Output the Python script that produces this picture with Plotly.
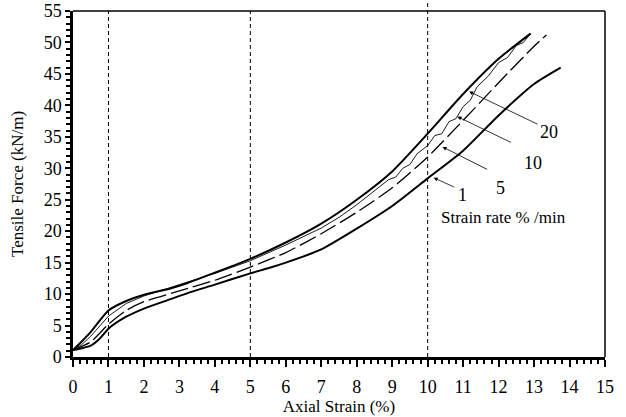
import plotly.graph_objects as go

# strain rate curves (axial strain %, tensile force kN/m)
rate1_x = [0, 0.25, 0.5, 0.75, 1, 1.5, 2, 2.75, 3.25, 4, 5, 5.5, 6, 7, 8, 9, 10, 11, 12, 13, 13.75]
rate1_y = [1.1, 1.4, 1.8, 2.9, 4.5, 6.4, 7.7, 9.2, 10.2, 11.5, 13.3, 14.1, 15.0, 17.1, 20.4, 24.0, 28.4, 32.8, 38.4, 43.4, 46.0]

rate5_x = [0, 0.5, 1, 1.5, 2, 3, 4, 5, 6, 7, 8, 9, 10, 11, 12, 13, 13.35]
rate5_y = [1.1, 2.4, 5.2, 7.4, 8.8, 10.5, 12.2, 14.3, 16.6, 19.6, 23.0, 26.9, 31.8, 37.6, 43.6, 49.4, 51.2]

rate10_x = [0, 0.25, 0.5, 1, 1.5, 2, 3, 4, 5, 6, 7, 7.5, 8, 8.5, 8.9, 9.1, 9.3, 9.5, 9.7, 10,
            10.2, 10.4, 10.6, 10.8, 11, 11.2, 11.4, 11.7, 12, 12.25, 12.5, 12.7, 12.9, 12.75]
rate10_y = [1.1, 2.0, 3.3, 6.5, 8.5, 9.7, 11.5, 13.3, 15.3, 17.8, 20.5, 22.2, 24.2, 26.4, 28.2, 28.6, 30.0, 30.6, 32.3, 33.6,
            35.2, 35.5, 37.4, 37.9, 39.8, 40.8, 43.0, 44.6, 46.8, 47.6, 49.5, 50.0, 51.4, 50.6]

rate20_x = [0, 0.25, 0.5, 1, 1.5, 2, 2.75, 3.25, 4, 5, 6, 7, 8, 9, 10, 11, 12, 12.9]
rate20_y = [1.1, 2.5, 4.0, 7.4, 8.9, 9.9, 10.9, 11.8, 13.4, 15.6, 18.2, 21.2, 25.0, 29.5, 35.5, 41.8, 47.4, 51.4]

guide_x = [1, 5, 10]

x_ticks = list(range(0, 16))
y_ticks = list(range(0, 56, 5))

serif = "Liberation Serif"

fig = go.Figure()

fig.add_trace(go.Scatter(x=rate1_x, y=rate1_y, mode="lines",
                         line=dict(color="black", width=2, shape="spline", smoothing=0.6), name="1"))
fig.add_trace(go.Scatter(x=rate5_x, y=rate5_y, mode="lines",
                         line=dict(color="black", width=1.3, dash="18px,5px", shape="spline", smoothing=0.6), name="5"))
fig.add_trace(go.Scatter(x=rate10_x, y=rate10_y, mode="lines", line=dict(color="black", width=0.9), name="10"))
fig.add_trace(go.Scatter(x=rate20_x, y=rate20_y, mode="lines",
                         line=dict(color="black", width=2, shape="spline", smoothing=0.6), name="20"))

# vertical dashed guide lines
for gx in guide_x:
    fig.add_shape(type="line", xref="x", yref="paper", x0=gx, x1=gx, y0=0,
                  y1=1.03 if gx == 10 else 1,
                  line=dict(color="black", width=1, dash="4px,3px"))

# thinner top and right border
fig.add_shape(type="line", xref="paper", yref="paper", x0=0, x1=1, y0=1, y1=1,
              line=dict(color="black", width=1.5))
fig.add_shape(type="line", xref="paper", yref="paper", x0=1, x1=1, y0=0, y1=1,
              line=dict(color="black", width=1.5))

# labels with leader arrows
labels = [("20", 13.42, 35.8, 13.14, 36.9, 11.17, 42.2),
          ("10", 12.96, 30.8, 12.39, 34.0, 10.84, 38.2),
          ("5", 12.06, 26.9, 11.72, 29.7, 10.42, 33.4),
          ("1", 10.99, 25.8, 10.79, 26.9, 10.17, 28.5)]
for txt, tx, ty, ax0, ay0, hx, hy in labels:
    fig.add_annotation(x=hx, y=hy, ax=ax0, ay=ay0, xref="x", yref="y", axref="x", ayref="y",
                       text="", showarrow=True, arrowhead=2, arrowsize=1, arrowwidth=0.8,
                       arrowcolor="black")
    fig.add_annotation(x=tx, y=ty, xref="x", yref="y", text=txt, showarrow=False,
                       font=dict(family=serif, size=18, color="black"))

fig.add_annotation(x=10.31, y=22.1, xref="x", yref="y", text="Strain rate % /min",
                   showarrow=False, xanchor="left",
                   font=dict(family=serif, size=17, color="black"))

fig.update_layout(
    width=626,
    height=417,
    margin=dict(l=73, r=21, t=11, b=60),
    plot_bgcolor="white",
    paper_bgcolor="white",
    showlegend=False,
    font=dict(family=serif, size=17, color="black"),
)

fig.update_xaxes(
    range=[0, 15],
    tickvals=x_ticks,
    ticks="outside",
    ticklen=7,
    tickwidth=1.5,
    tickcolor="black",
    minor=dict(dtick=0.2, ticks="outside", ticklen=4, tickwidth=1.5, tickcolor="black", showgrid=False),
    showline=True,
    linewidth=2.5,
    linecolor="black",
    showgrid=False,
    zeroline=False,
    automargin=False,
    ticklabelstandoff=5,
    ticklabeloverflow="allow",
    title=dict(text="Axial Strain (%)", standoff=0, font=dict(family=serif, size=17)),
    tickfont=dict(family=serif, size=18),
)

fig.update_yaxes(
    range=[0, 55],
    tickvals=y_ticks,
    ticks="outside",
    ticklen=5,
    tickwidth=1.5,
    tickcolor="black",
    minor=dict(dtick=1, ticks="outside", ticklen=4, tickwidth=1.5, tickcolor="black", showgrid=False),
    showline=True,
    linewidth=2.5,
    linecolor="black",
    showgrid=False,
    zeroline=False,
    automargin=False,
    ticklabeloverflow="allow",
    title=dict(text="Tensile Force (kN/m)", standoff=16, font=dict(family=serif, size=17)),
    tickfont=dict(family=serif, size=18),
)

# drop the default page margin so the figure fills the window
fig.write_html("out.html", config={"displayModeBar": False},
               post_script="document.body.style.margin = '0';")
